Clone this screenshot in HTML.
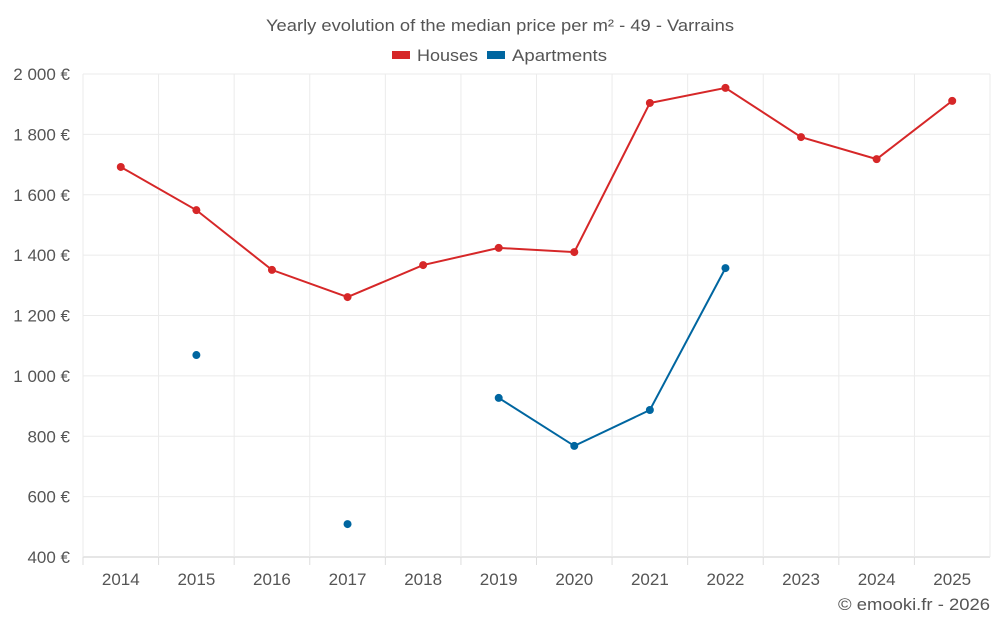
<!DOCTYPE html>
<html><head><meta charset="utf-8">
<style>
body{margin:0;background:#fff;font-family:"Liberation Sans",sans-serif;}
svg text{font-family:"Liberation Sans",sans-serif;fill:#555;}
</style></head>
<body>
<svg id="chart" width="1000" height="625" viewBox="0 0 1000 625" xmlns="http://www.w3.org/2000/svg">
<text x="266" y="31" font-size="17" textLength="468" lengthAdjust="spacingAndGlyphs">Yearly evolution of the median price per m² - 49 - Varrains</text>
<g>
<rect x="392" y="51" width="18" height="8" fill="#d62728"/>
<text x="417" y="61" font-size="17" textLength="61" lengthAdjust="spacingAndGlyphs">Houses</text>
<rect x="487" y="51" width="18" height="8" fill="#0066a0"/>
<text x="512" y="61" font-size="17" textLength="95" lengthAdjust="spacingAndGlyphs">Apartments</text>
</g>
<g id="grid"></g><g id="axes"></g><g id="series"></g>
<text x="838" y="610" font-size="17" textLength="152" lengthAdjust="spacingAndGlyphs">© emooki.fr - 2026</text>
</svg>
<script>
const years=[2014,2015,2016,2017,2018,2019,2020,2021,2022,2023,2024,2025];
const houses=[1692,1549,1351,1261,1367,1424,1410,1904,1954,1791,1718,1911];
const apartments=[null,1069,null,509,null,927,768,887,1357,null,null,null];
const yTicks=[400,600,800,1000,1200,1400,1600,1800,2000];
const L=83,R=990,T=74,B=557,yMin=400,yMax=2000;
const bw=(R-L)/years.length;
const x=i=>L+bw*(i+0.5);
const y=v=>B-(v-yMin)/(yMax-yMin)*(B-T);
const NS="http://www.w3.org/2000/svg";
function mk(tag,attrs,parent){const e=document.createElementNS(NS,tag);for(const k in attrs)e.setAttribute(k,attrs[k]);parent.appendChild(e);return e;}
const grid=document.getElementById('grid'),axes=document.getElementById('axes'),ser=document.getElementById('series');
const fmt=v=>{const s=String(v);return (s.length>3?s.slice(0,-3)+' '+s.slice(-3):s)+' €';};
yTicks.forEach(v=>{
 const l=mk('line',{x1:L,x2:R,y1:y(v),y2:y(v),stroke:v===yMin?'#ccc':'#ebebeb'},grid);
 
 
 const t=mk('text',{x:70,y:y(v)+6,'text-anchor':'end','font-size':17},axes);
 t.textContent=fmt(v);
 
 
});
for(let i=0;i<=years.length;i++){
 const l=mk('line',{x1:L+bw*i,x2:L+bw*i,y1:T,y2:B,stroke:'#ebebeb'},grid);
 
 
}
years.forEach((yr,i)=>{
 const tk=mk('line',{x1:L+bw*i,x2:L+bw*i,y1:B,y2:B+8,stroke:'#ddd'},axes);
 
 
 const t=mk('text',{x:x(i),y:585,'text-anchor':'middle','font-size':17},axes);
 t.textContent=yr;
 
 
});
function draw(data,color,name){
 let d='',pen=false;
 data.forEach((v,i)=>{if(v==null){pen=false;return;}d+=(pen?'L':'M')+x(i)+' '+y(v)+' ';pen=true;});
 const p=mk('path',{d:d,fill:'none',stroke:color,'stroke-width':2},ser);
 
 
 data.forEach((v,i)=>{if(v==null)return;
  const c=mk('circle',{cx:x(i),cy:y(v),r:4,fill:color},ser);
  
  
 });
}
draw(houses,'#d62728','houses');
draw(apartments,'#0066a0','apartments');
</script>
</body></html>
